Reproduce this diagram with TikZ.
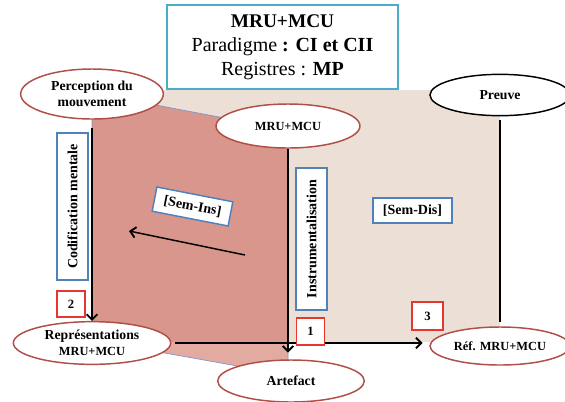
\documentclass[tikz,border=0pt]{standalone}
\usepackage{fontspec}
\setmainfont{Liberation Serif}
\usetikzlibrary{arrows.meta,shapes.geometric}
\definecolor{beige}{RGB}{236,224,214}
\definecolor{redfill}{RGB}{217,150,140}
\definecolor{redlight}{RGB}{227,170,162}
\definecolor{ellred}{RGB}{176,78,72}
\definecolor{boxblue}{RGB}{79,129,189}
\definecolor{edgeblue}{RGB}{120,150,200}
\definecolor{teal}{RGB}{75,172,198}
\definecolor{numred}{RGB}{228,55,45}
\newcommand{\capsz}{\fontsize{9.3}{11}\selectfont}
\tikzset{
  ell/.style={ellipse, draw=ellred, line width=1.1pt, fill=white, inner sep=0pt, align=center, font=\bfseries\fontsize{10.3}{12}\selectfont},
  blubox/.style={draw=boxblue, line width=1.1pt, fill=white, inner sep=0pt, font=\bfseries\fontsize{10.5}{12}\selectfont},
  numbox/.style={draw=numred, line width=1.4pt, fill=white, inner sep=0pt, minimum width=21pt, minimum height=20pt, font=\bfseries\fontsize{9.5}{11}\selectfont},
  conn/.style={black, line width=1.4pt},
  arr/.style={conn, -{Straight Barb[length=4pt,width=8pt,line width=1.4pt]}}
}
\begin{document}
\begin{tikzpicture}[x=0.75pt,y=-0.75pt]
\useasboundingbox (0,0) rectangle (565,401);
% panels
\fill[beige] (92,90) rectangle (500,342);
\begin{scope}
  \clip (0,0) rectangle (565,342);
  \fill[redfill] (92,93) -- (288,130) -- (288,375) -- (92,340) -- cycle;
\end{scope}
\begin{scope}
  \clip (0,342) rectangle (565,401);
  \fill[redlight] (92,93) -- (288,130) -- (288,375) -- (92,340) -- cycle;
\end{scope}
\draw[edgeblue, line width=0.5pt] (92,93) -- (288,130) -- (288,375) -- (92,340) -- cycle;
% title
\node[draw=teal, line width=1.8pt, fill=white, minimum width=173pt, minimum height=63pt, align=center, inner sep=0pt, font=\fontsize{15}{18}\selectfont] (title) at (282.5,47)
  {{\fontsize{14.5}{18}\selectfont\textbf{MRU+MCU}}\\Paradigme \textbf{: CI et CII}\\Registres : \textbf{MP}};
% ellipses
\node[ell, minimum width=107pt, minimum height=37.5pt] (perc) at (92,94) {Perception du\\mouvement};
\node[ell, minimum width=108pt, minimum height=33pt] (mru) at (288,126) {\capsz MRU+MCU};
\node[ell, draw=black, minimum width=105pt, minimum height=31pt] (preuve) at (500,95) {Preuve};
\node[ell, minimum width=118pt, minimum height=32pt] (repr) at (92,343) {Représentations\\\capsz MRU+MCU};
\node[ell, minimum width=110pt, minimum height=31.5pt] (art) at (291,381) {Artefact};
\node[ell, minimum width=105pt, minimum height=28.5pt] (ref) at (500,346) {\capsz Réf. MRU+MCU};
% connectors
\draw[arr, shorten <=6pt] (perc.south) -- (repr.north);
\draw[arr, shorten >=5pt] (mru.south) -- (mru.south |- art.north);
\draw[conn, shorten <=3pt, shorten >=3pt] (preuve.south) -- (ref.north);
\draw[arr, shorten <=3pt, shorten >=5pt] (repr.east) -- (repr.east -| ref.west);
\coordinate (d1) at (245,255);
\coordinate (d2) at (129,231);
\draw[arr, line width=1.1pt] (d1) -- (d2);
% labels
\node[blubox, rotate=90, minimum width=110pt, minimum height=23pt] (codif) at (72.5,206.5) {Codification mentale};
\node[blubox, rotate=90, minimum width=106.5pt, minimum height=23pt] (instr) at (311.5,239) {Instrumentalisation};
\node[blubox, minimum width=59pt, minimum height=19pt] (semdis) at (412.5,210.5) {[Sem-Dis]};
\node[blubox, rotate=-11, minimum width=58pt, minimum height=18.5pt] (semins) at (192.5,206.5) {[Sem-Ins]};
\node[numbox] (n2) at (71,304) {2};
\node[numbox] (n1) at (310.5,331.5) {1};
\node[numbox, minimum width=23pt, minimum height=21pt] (n3) at (427.5,316) {3};
\end{tikzpicture}
\end{document}
